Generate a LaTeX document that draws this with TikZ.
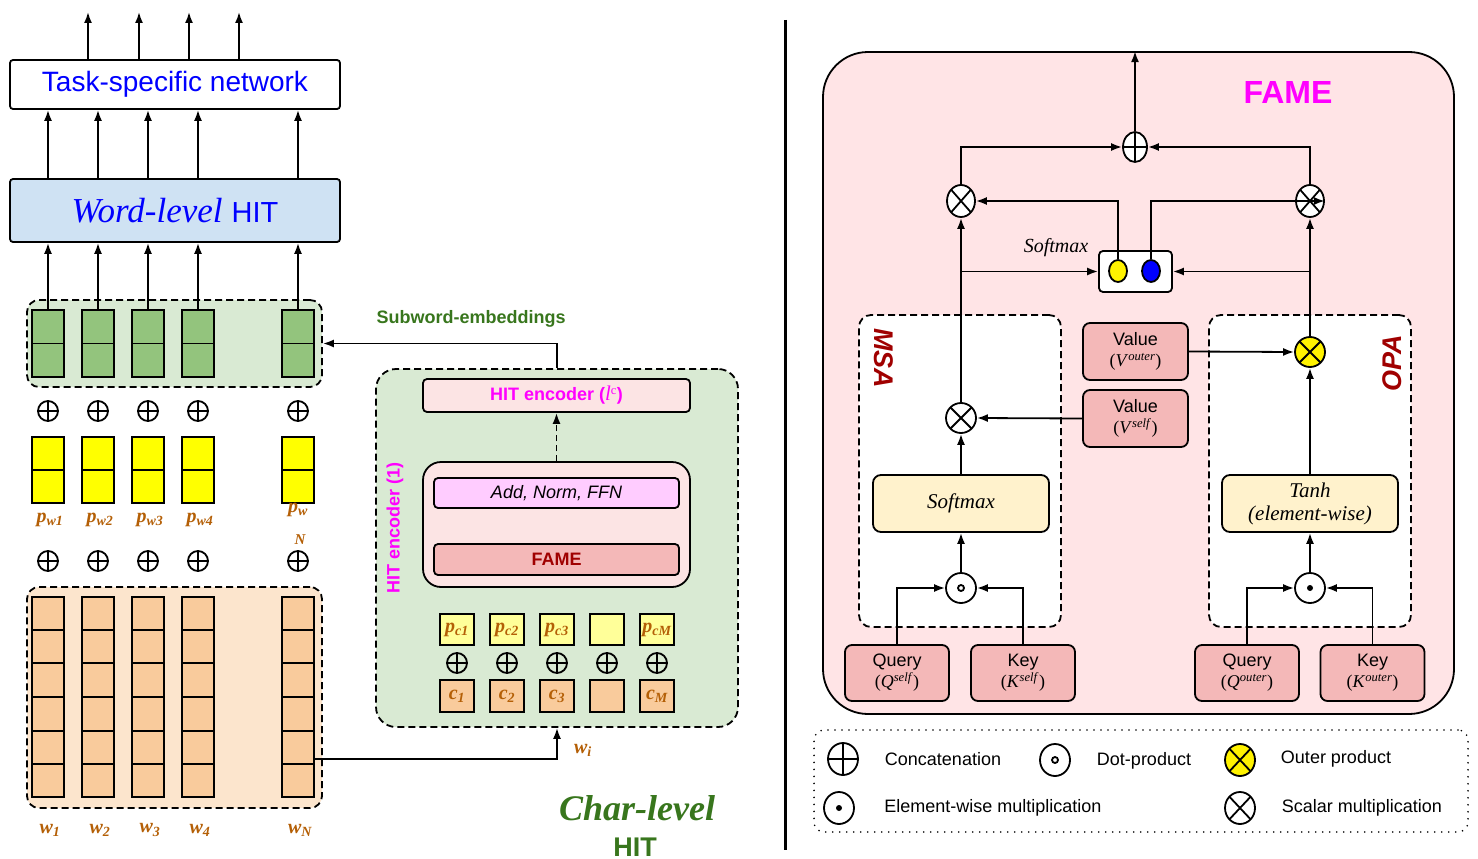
\documentclass[tikz,border=0pt]{standalone}
\usepackage{fontspec}
\setmainfont{Liberation Serif}
\setsansfont{Liberation Sans}
\usepackage{tikz}
\usetikzlibrary{positioning,arrows.meta,calc,shapes.geometric}
\definecolor{wordblue}{HTML}{CFE2F3}
\definecolor{embgreen}{HTML}{D9EAD3}
\definecolor{cellgreen}{HTML}{93C47D}
\definecolor{embpeach}{HTML}{FCE5CD}
\definecolor{cellpeach}{HTML}{F9CB9C}
\definecolor{cellyellow}{HTML}{FFFF00}
\definecolor{charyellow}{HTML}{FFFF99}
\definecolor{lblbrown}{HTML}{B45F06}
\definecolor{subgreen}{HTML}{38761D}
\definecolor{famepink}{HTML}{FFE4E6}
\definecolor{encpink}{HTML}{FCE4E4}
\definecolor{ffnpink}{HTML}{FFCCFF}
\definecolor{qkvred}{HTML}{F4B8B8}
\definecolor{softcream}{HTML}{FFF2CC}
\definecolor{darkred}{HTML}{A00000}
\definecolor{hitmagenta}{HTML}{FF00FF}
\definecolor{textblue}{HTML}{0000FF}
\newcommand{\veclab}[2]{{\bfseries\itshape #1\textsubscript{#2}}}

\begin{document}
\begin{tikzpicture}[x=1pt, y=-1pt,
    arr/.style={-{Latex[length=11pt,width=8pt]}, line width=1.8pt},
    wire/.style={line width=1.8pt},
    topBox/.style={rectangle, rounded corners=3pt, draw, line width=1.8pt, minimum width=330pt, inner sep=0pt},
    regionBox/.style={rectangle, rounded corners=12pt, draw, line width=1.8pt, dash pattern=on 7pt off 4pt, inner sep=0pt},
    cellCol/.style={rectangle, draw, line width=1.8pt, minimum width=32pt, inner sep=0pt},
    charCell/.style={rectangle, draw, line width=1.8pt, minimum width=34pt, minimum height=31pt, inner sep=0pt},
    encBox/.style={rectangle, rounded corners=4pt, draw, line width=1.8pt, minimum width=245pt, minimum height=30pt, inner sep=0pt},
    qkvBox/.style={rectangle, rounded corners=7pt, draw, line width=1.8pt, fill=qkvred, minimum width=104pt, minimum height=56pt, align=center, inner sep=0pt, font=\fontsize{18}{21}\selectfont},
    funcBox/.style={rectangle, rounded corners=8pt, draw, line width=1.8pt, fill=softcream, minimum width=176pt, minimum height=57pt, align=center, inner sep=0pt, font=\itshape\fontsize{21}{23}\selectfont},
    opBase/.style={ellipse, draw, line width=1.8pt, inner sep=0pt},
    plusOp/.style={opBase, path picture={\draw[line width=1.8pt] (path picture bounding box.north) -- (path picture bounding box.south) (path picture bounding box.west) -- (path picture bounding box.east);}},
    timesOp/.style={opBase, path picture={\draw[line width=1.8pt] (path picture bounding box.north west) -- (path picture bounding box.south east) (path picture bounding box.south west) -- (path picture bounding box.north east);}},
    dotOp/.style={opBase, path picture={\draw[line width=1.8pt] (path picture bounding box.center) circle (3pt);}},
    ewOp/.style={opBase, path picture={\fill[black] (path picture bounding box.center) circle (3pt);}},
    vecLbl/.style={text=lblbrown, font=\fontsize{20}{22}\selectfont, inner sep=0pt},
    legTxt/.style={font=\sffamily\fontsize{18}{20}\selectfont, inner sep=0pt}
]
    \useasboundingbox (0,0) rectangle (1478,859);

    % word-level side
    \node[topBox, minimum height=49pt, fill=white, text=textblue, font=\sffamily\fontsize{28}{30}\selectfont] (task) at (175,84.5) {Task-specific network};
    \node[topBox, minimum height=63pt, fill=wordblue, text=textblue] (word) at (175,210.5) {{\itshape\fontsize{35}{38}\selectfont Word-level}\hspace{9pt}{\sffamily\fontsize{29}{30}\selectfont HIT}};
    \node[regionBox, fill=embgreen, minimum width=295pt, minimum height=87pt] (subemb) at (174.5,343.5) {};
    \node[regionBox, fill=embpeach, minimum width=295pt, minimum height=221pt] (wordemb) at (174.5,697.5) {};

    \foreach \i/\x in {1/48,2/98,3/148,4/198,5/298} {
        \node[cellCol, fill=cellgreen, minimum height=67pt] (g\i) at (\x,343.5) {};
        \draw[wire] (g\i.west) -- (g\i.east);
        \node[plusOp, minimum size=20pt] (sa\i) at (\x,411) {};
        \node[cellCol, fill=cellyellow, minimum height=66pt] (y\i) at (\x,470) {};
        \draw[wire] (y\i.west) -- (y\i.east);
        \node[plusOp, minimum size=20pt] (sb\i) at (\x,561) {};
        \node[cellCol, fill=cellpeach, minimum height=200pt] (o\i) at (\x,697) {};
        \foreach \k in {1,...,5}
            \draw[wire] ($(o\i.north west)!\k/6!(o\i.south west)$) -- ($(o\i.north east)!\k/6!(o\i.south east)$);
        \draw[arr] (g\i.north) -- (word.south -| g\i);
        \draw[arr] (word.north -| g\i) -- (task.south -| g\i);
    }
    \foreach \i/\x in {1/88,2/139,3/189,4/239} {
        \coordinate (out\i) at (\x,12);
        \draw[arr] (task.north -| out\i) -- (out\i);
    }

    \foreach \i/\x in {1/50,2/100,3/150,4/200} {
        \node[vecLbl] (pl\i) at (\x,520) {\veclab{p}{w\i}};
        \node[vecLbl] (wl\i) at (\x,830) {\veclab{w}{\i}};
    }
    \node[vecLbl] (pl5) at (298,510) {\veclab{p}{w}};
    \node[vecLbl, font=\fontsize{15}{16}\selectfont] (pl5n) at (300,540) {\bfseries\itshape N};
    \node[vecLbl] (wl5) at (300,830) {\veclab{w}{N}};

    % char-level side
    \node[regionBox, rounded corners=20pt, fill=embgreen, minimum width=362pt, minimum height=358pt] (charbox) at (557,548) {};
    \node[encBox, fill=encpink, minimum width=267pt, minimum height=33pt, text=hitmagenta, font=\sffamily\bfseries\fontsize{18}{20}\selectfont] (hitenc) at (556.5,395.5) {HIT encoder ({\rmfamily\mdseries\itshape\fontsize{21}{22}\selectfont l}\textsuperscript{\rmfamily\mdseries c})};
    \node[encBox, rounded corners=18pt, fill=encpink, minimum width=267pt, minimum height=125pt] (layer) at (556.5,524.5) {};
    \node[encBox, fill=ffnpink, font=\sffamily\itshape\fontsize{18}{20}\selectfont] (ffn) at (556.5,493) {Add, Norm, FFN};
    \node[encBox, fill=qkvred, minimum height=31pt, text=darkred, font=\sffamily\bfseries\fontsize{18}{20}\selectfont] (fame1) at (556.5,559.5) {FAME};
    \draw[arr, dash pattern=on 6pt off 4pt] (layer.north) -- (hitenc.south);
    \node[rotate=90, text=hitmagenta, font=\sffamily\bfseries\fontsize{18}{20}\selectfont] (enc1) at (395,528) {HIT encoder (1)};

    \foreach \i/\x in {1/457,2/507,3/557,4/607,5/657} {
        \node[charCell, fill=charyellow] (pc\i) at (\x,629.5) {};
        \node[plusOp, minimum size=20pt] (sc\i) at (\x,663) {};
        \node[charCell, fill=cellpeach, minimum height=32pt] (cc\i) at (\x,696) {};
    }
    \foreach \i/\s in {1/1,2/2,3/3,5/M} {
        \node[vecLbl, font=\fontsize{20}{20}\selectfont] (pcl\i) at (pc\i) {\veclab{p}{c\s}};
        \node[vecLbl, font=\fontsize{20}{20}\selectfont] (ccl\i) at (cc\i) {\veclab{c}{\s}};
    }

    \draw[arr] ([yshift=-62pt]o5.east) -| (charbox.south);
    \draw[arr] (charbox.north) |- (subemb.east);
    \node[vecLbl] (wi) at (583,750) {\veclab{w}{i}};
    \node[text=subgreen, font=\sffamily\bfseries\fontsize{18}{20}\selectfont] (sublbl) at (471,319) {Subword-embeddings};
    \node[text=subgreen, font=\bfseries\itshape\fontsize{36}{38}\selectfont] (charlbl) at (637,808) {Char-level};
    \node[text=subgreen, font=\sffamily\bfseries\fontsize{27}{30}\selectfont] (charhit) at (635,847) {HIT};

    \draw[line width=3pt] (785,20) -- (785,850);

    % FAME
    \node[rectangle, rounded corners=45pt, draw, line width=1.8pt, fill=famepink, minimum width=631pt, minimum height=662pt, inner sep=0pt] (fame) at (1138.5,383) {};
    \node[text=hitmagenta, font=\sffamily\bfseries\fontsize{32}{34}\selectfont] (famelbl) at (1288,92) {FAME};
    \node[plusOp, fill=white, minimum width=24pt, minimum height=30pt] (sum) at (1135,147) {};
    \node[timesOp, fill=white, minimum width=28pt, minimum height=32pt] (mulL) at (961,201) {};
    \node[timesOp, fill=white, minimum width=28pt, minimum height=32pt] (mulR) at (1310,201) {};
    \node[rectangle, rounded corners=4pt, draw, line width=1.8pt, fill=white, minimum width=73pt, minimum height=41pt, inner sep=0pt] (gate) at (1135.5,271.5) {};
    \node[opBase, fill=yellow, minimum width=18pt, minimum height=22pt] (gateY) at (1118,271) {};
    \node[opBase, fill=blue, minimum width=18pt, minimum height=22pt] (gateB) at (1151,271) {};
    \node[font=\itshape\fontsize{20}{22}\selectfont] (gatelbl) at (1056,248) {Softmax};

    \node[regionBox, fill=white, minimum width=202pt, minimum height=312pt] (msa) at (960,471) {};
    \node[regionBox, fill=white, minimum width=202pt, minimum height=312pt] (opa) at (1310,471) {};
    \node[rotate=-90, text=darkred, font=\sffamily\bfseries\itshape\fontsize{27}{28}\selectfont] (msalbl) at (884,358) {MSA};
    \node[rotate=90, text=darkred, font=\sffamily\bfseries\itshape\fontsize{27}{28}\selectfont] (opalbl) at (1392,363) {OPA};

    \node[timesOp, fill=white, minimum size=30pt] (mulS) at (961,418) {};
    \node[funcBox] (softS) at (961,503.5) {Softmax};
    \node[dotOp, fill=white, minimum size=30pt] (dotS) at (961,588) {};
    \node[qkvBox] (qS) at (897,673) {{\sffamily Query}\\(\textit{Q}\textsuperscript{\textit{self}})};
    \node[qkvBox] (kS) at (1023,673) {{\sffamily Key}\\(\textit{K}\textsuperscript{\textit{self}})};
    \node[qkvBox, minimum width=105pt, minimum height=57pt] (vO) at (1135.5,351.5) {{\sffamily Value}\\(\textit{V}\textsuperscript{\textit{outer}})};
    \node[qkvBox, minimum width=105pt, minimum height=57pt] (vS) at (1135.5,418.5) {{\sffamily Value}\\(\textit{V}\textsuperscript{\textit{self}})};

    \node[timesOp, fill=yellow, minimum size=30pt] (mulO) at (1310,352) {};
    \node[funcBox] (tanhO) at (1310,503.5) {Tanh\\(element-wise)};
    \node[ewOp, fill=white, minimum size=30pt] (dotO) at (1310,588) {};
    \node[qkvBox] (qO) at (1247,673) {{\sffamily Query}\\(\textit{Q}\textsuperscript{\textit{outer}})};
    \node[qkvBox] (kO) at (1372.5,673) {{\sffamily Key}\\(\textit{K}\textsuperscript{\textit{outer}})};

    \draw[arr] (sum.north) -- (fame.north -| sum);
    \draw[arr] (mulL.north) |- (sum.west);
    \draw[arr] (mulR.north) |- (sum.east);
    \draw[arr] (gateY.north) |- (mulL.east);
    \draw[arr] (gateB.north) |- (mulR.east);
    \draw[arr] (mulS.north) -- (mulL.south);
    \draw[arr] (mulO.north) -- (mulR.south);
    \draw[arr] (mulS.north |- gate.west) -- (gate.west);
    \draw[arr] (mulO.north |- gate.east) -- (gate.east);
    \draw[arr] (vS.west) -- (mulS.east);
    \draw[arr] (vO.east) -- (mulO.west);
    \draw[arr] (softS.north) -- (mulS.south);
    \draw[arr] (dotS.north) -- (softS.south);
    \draw[arr] (qS.north) |- (dotS.west);
    \draw[arr] (kS.north) |- (dotS.east);
    \draw[arr] (tanhO.north) -- (mulO.south);
    \draw[arr] (dotO.north) -- (tanhO.south);
    \draw[arr] (qO.north) |- (dotO.west);
    \draw[arr] (kO.north) |- (dotO.east);

    % legend
    \node[rectangle, rounded corners=10pt, draw, line width=1.8pt, dash pattern=on 0pt off 7pt, line cap=round, minimum width=654pt, minimum height=102pt, inner sep=0pt] (legend) at (1141,781) {};
    \node[plusOp, minimum width=30pt, minimum height=32pt] (lgSum) at (843,759) {};
    \node[legTxt] (lgSumT) at (943,759) {Concatenation};
    \node[dotOp, minimum width=30pt, minimum height=32pt] (lgDot) at (1055,760) {};
    \node[legTxt] (lgDotT) at (1144,761) {Dot-product};
    \node[timesOp, fill=yellow, minimum width=30pt, minimum height=32pt] (lgOuter) at (1240,760) {};
    \node[legTxt] (lgOuterT) at (1336,759) {Outer product};
    \node[ewOp, minimum width=30pt, minimum height=32pt] (lgEw) at (839,808) {};
    \node[legTxt] (lgEwT) at (993,808) {Element-wise multiplication};
    \node[timesOp, minimum width=30pt, minimum height=32pt] (lgScal) at (1240,808) {};
    \node[legTxt] (lgScalT) at (1362,808) {Scalar multiplication};
\end{tikzpicture}
\end{document}
